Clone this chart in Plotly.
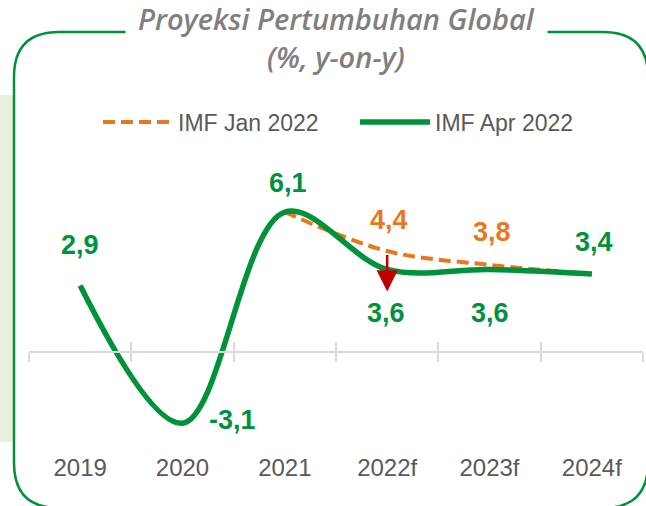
import plotly.graph_objects as go

# data
years = ["2019", "2020", "2021", "2022f", "2023f", "2024f"]
imf_apr_2022 = [2.9, -3.1, 6.1, 3.6, 3.6, 3.4]
imf_jan_2022 = [None, None, 6.1, 4.4, 3.8, 3.4]

W, H = 646, 506
L, R, T, B = 29, 3, 120, 61
PW, PH = W - L - R, H - T - B
Y_RANGE = [-4.05, 10.11]

GREEN = "#00923A"
ORANGE = "#E8781E"
GREY_TXT = "#595959"
SANS = "Liberation Sans, Arial, sans-serif"


def px(x):
    return (x - L) / PW


def py(y):
    return (H - B - y) / PH


idx = list(range(len(years)))

fig = go.Figure()
fig.add_trace(go.Scatter(
    x=idx, y=imf_jan_2022, name="IMF Jan 2022", mode="lines",
    line=dict(color=ORANGE, width=4, dash="12px,6px", shape="spline", smoothing=1.0),
))
fig.add_trace(go.Scatter(
    x=idx, y=imf_apr_2022, name="IMF Apr 2022", mode="lines",
    line=dict(color=GREEN, width=5.5, shape="spline", smoothing=1.0),
))
# invisible helpers so the zero-line axes get drawn
for ax in ["x2", "x3"]:
    fig.add_trace(go.Scatter(x=idx, y=imf_apr_2022, xaxis=ax, mode="markers",
                             marker=dict(opacity=0), showlegend=False, hoverinfo="skip"))

# data labels (which points get one, and pixel offsets)
apr_offsets = {0: (0, 40), 1: (50, 3), 2: (3, 29), 3: (-1, -44), 4: (0, -44), 5: (2, 32)}
jan_offsets = {3: (2, 31), 4: (2, 33)}
for series, color, offsets in [(imf_apr_2022, GREEN, apr_offsets), (imf_jan_2022, ORANGE, jan_offsets)]:
    for i, (dx, dy) in offsets.items():
        fig.add_annotation(
            x=i, y=series[i], text="<b>" + f"{series[i]:.1f}".replace(".", ",") + "</b>",
            showarrow=False, xshift=dx, yshift=dy,
            font=dict(family=SANS, size=27, color=color),
        )

# red down arrow at 2022f
fig.add_annotation(
    x=3, y=imf_apr_2022[3], text="", showarrow=True,
    ax=0, ay=-38, yshift=-22,
    arrowhead=2, arrowsize=1.7, arrowwidth=2.5, arrowcolor="#C00000",
)

# title
fig.add_annotation(
    x=px(336), y=py(38), xref="paper", yref="paper", xanchor="center", yanchor="middle",
    text="<i>Proyeksi Pertumbuhan Global<br>(%, y-on-y)</i>",
    showarrow=False, bgcolor="white", borderpad=12,
    font=dict(family="Open Sans, sans-serif", size=29, color="#7F7F7F", weight=600),
)

# rounded frame and left panel
x0, y0, x1, y1, r = 14, 32, 648, 508, 45
frame = (
    f"M {px(x0 + r)},{py(y0)} L {px(x1 - r)},{py(y0)} "
    f"Q {px(x1)},{py(y0)} {px(x1)},{py(y0 + r)} L {px(x1)},{py(y1 - r)} "
    f"Q {px(x1)},{py(y1)} {px(x1 - r)},{py(y1)} L {px(x0 + r)},{py(y1)} "
    f"Q {px(x0)},{py(y1)} {px(x0)},{py(y1 - r)} L {px(x0)},{py(y0 + r)} "
    f"Q {px(x0)},{py(y0)} {px(x0 + r)},{py(y0)} Z"
)
fig.add_shape(type="rect", xref="paper", yref="paper", x0=px(0), x1=px(13), y0=py(442), y1=py(95),
              fillcolor="#EBEEDD", line_width=0, layer="below")
fig.add_shape(type="path", xref="paper", yref="paper", path=frame,
              line=dict(color=GREEN, width=2.5), layer="below")

zero_pos = (0 - Y_RANGE[0]) / (Y_RANGE[1] - Y_RANGE[0])
axis_common = dict(
    overlaying="x", anchor="free", position=zero_pos, range=[-0.5, 5.5],
    tickmode="linear", tick0=-0.5, dtick=1, ticklen=9, tickwidth=2, tickcolor="#D9D9D9",
    showline=True, linecolor="#D9D9D9", linewidth=2, showticklabels=False,
    showgrid=False, zeroline=False, fixedrange=True,
)

fig.update_layout(
    width=W, height=H,
    margin=dict(l=L, r=R, t=T, b=B, autoexpand=False),
    paper_bgcolor="white", plot_bgcolor="rgba(0,0,0,0)",
    font=dict(family=SANS, color=GREY_TXT),
    xaxis=dict(tickmode="array", tickvals=idx, ticktext=years, range=[-0.5, 5.5],
               showline=False, ticks="", showgrid=False, zeroline=False,
               tickfont=dict(size=24, color=GREY_TXT), ticklabelstandoff=6),
    xaxis2=dict(ticks="outside", **axis_common),
    xaxis3=dict(ticks="inside", **axis_common),
    yaxis=dict(range=Y_RANGE, visible=False, showgrid=False, zeroline=False),
    legend=dict(orientation="h", x=px(98), xanchor="left", y=py(122), yanchor="middle",
                font=dict(size=23, color=GREY_TXT), itemwidth=70, bgcolor="rgba(0,0,0,0)",
                entrywidth=172, entrywidthmode="pixels"),
    showlegend=True,
)

fig.write_html("out.html", config={"displayModeBar": False},
               post_script="document.body.style.margin='0';")
